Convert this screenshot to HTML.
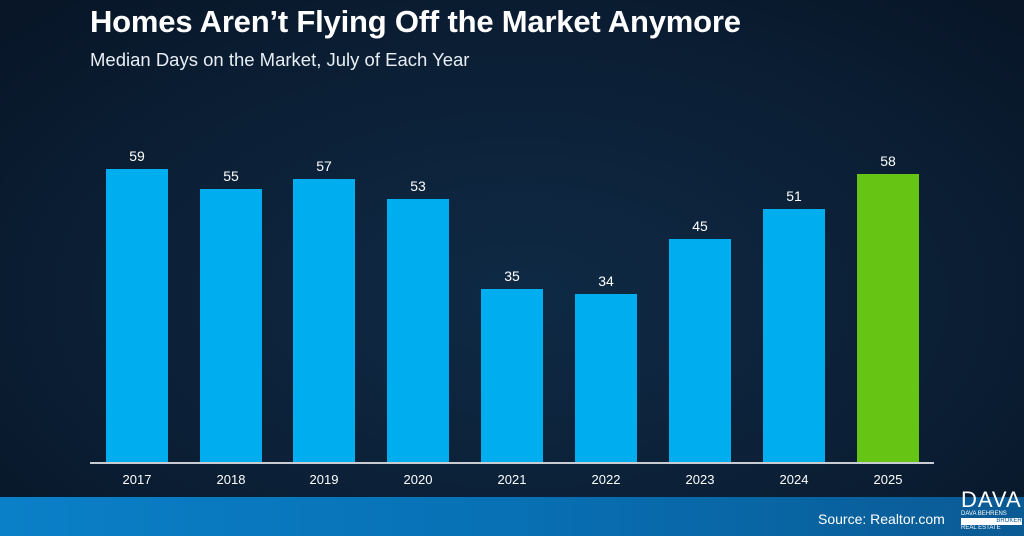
<!DOCTYPE html>
<html><head><meta charset="utf-8"><style>
html,body{margin:0;padding:0}
body{width:1024px;height:536px;position:relative;overflow:hidden;font-family:"Liberation Sans",sans-serif;
background:radial-gradient(ellipse 700px 400px at 520px 300px,#0f2a45 0%,#0b1f35 60%,#081628 100%);}
.t{position:absolute;left:90px;top:4px;color:#fff;font-weight:bold;font-size:31px;letter-spacing:-0.2px}
.s{position:absolute;left:90px;top:49px;color:#e8eef4;font-size:18.5px}
.bar{position:absolute;width:62px;background:#00aeef}
.v{position:absolute;width:62px;text-align:center;color:#fff;font-size:14px}
.x{position:absolute;width:62px;text-align:center;color:#fff;font-size:13px;top:472px}
.axis{position:absolute;left:90px;width:844px;top:462px;height:2px;background:#c8ccd2}
.band{position:absolute;left:0;top:497px;width:1024px;height:39px;background:linear-gradient(90deg,#0a80c8,#0870b4 50%,#0a5a94)}
.src{position:absolute;left:818px;top:511px;color:#fff;font-size:14px}
.logo{position:absolute;left:961px;top:489px;color:#fff;font-size:22px;letter-spacing:1px;line-height:22px}
.logo small{display:block;font-size:6px;letter-spacing:0;line-height:7px}
</style></head><body>
<div class="t">Homes Aren’t Flying Off the Market Anymore</div>
<div class="s">Median Days on the Market, July of Each Year</div>

<div class="bar" style="left:106px;top:169px;height:294px"></div><div class="v" style="left:106px;top:148px">59</div><div class="x" style="left:106px">2017</div>
<div class="bar" style="left:200px;top:189px;height:274px"></div><div class="v" style="left:200px;top:168px">55</div><div class="x" style="left:200px">2018</div>
<div class="bar" style="left:293px;top:179px;height:284px"></div><div class="v" style="left:293px;top:158px">57</div><div class="x" style="left:293px">2019</div>
<div class="bar" style="left:387px;top:199px;height:264px"></div><div class="v" style="left:387px;top:178px">53</div><div class="x" style="left:387px">2020</div>
<div class="bar" style="left:481px;top:289px;height:174px"></div><div class="v" style="left:481px;top:268px">35</div><div class="x" style="left:481px">2021</div>
<div class="bar" style="left:575px;top:294px;height:169px"></div><div class="v" style="left:575px;top:273px">34</div><div class="x" style="left:575px">2022</div>
<div class="bar" style="left:669px;top:239px;height:224px"></div><div class="v" style="left:669px;top:218px">45</div><div class="x" style="left:669px">2023</div>
<div class="bar" style="left:763px;top:209px;height:254px"></div><div class="v" style="left:763px;top:188px">51</div><div class="x" style="left:763px">2024</div>
<div class="bar" style="left:857px;top:174px;height:289px;background:#66c414"></div><div class="v" style="left:857px;top:153px">58</div><div class="x" style="left:857px">2025</div>
<div class="axis"></div>
<div class="band"></div>
<div class="src">Source: Realtor.com</div>
<div class="logo">DAVA<small>DAVA BEHRENS</small><small style="background:#fff;color:#0a5a94;text-align:right">BROKER</small><small>REAL ESTATE</small></div>
</body></html>
